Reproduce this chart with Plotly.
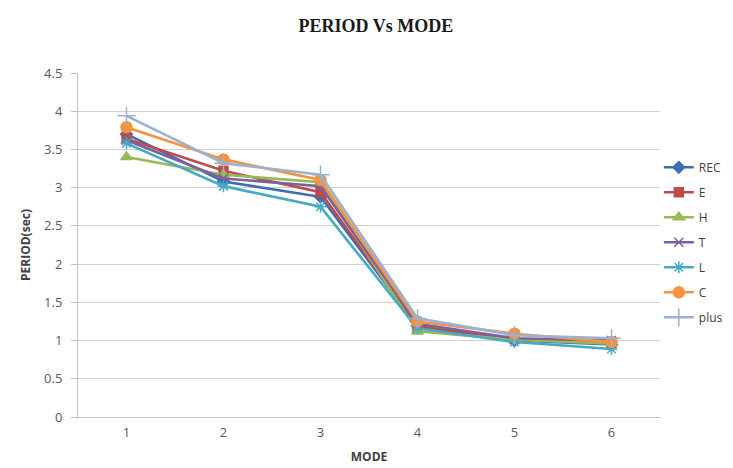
import plotly.graph_objects as go

modes = [1, 2, 3, 4, 5, 6]
mode_labels = ["1", "2", "3", "4", "5", "6"]
series_names = ["REC", "E", "H", "T", "L", "C", "plus"]
rec = [3.70, 3.08, 2.88, 1.19, 1.00, 0.95]
e_vals = [3.64, 3.22, 2.94, 1.18, 1.02, 0.97]
h_vals = [3.40, 3.17, 3.07, 1.12, 1.01, 0.96]
t_vals = [3.62, 3.12, 3.02, 1.22, 1.03, 1.00]
l_vals = [3.58, 3.02, 2.75, 1.16, 0.98, 0.89]
c_vals = [3.79, 3.37, 3.10, 1.25, 1.09, 0.98]
plus_vals = [3.94, 3.32, 3.17, 1.29, 1.07, 1.03]
y_ticks = [0, 0.5, 1, 1.5, 2, 2.5, 3, 3.5, 4, 4.5]
y_tick_labels = ["0", "0.5", "1", "1.5", "2", "2.5", "3", "3.5", "4", "4.5"]

all_vals = [rec, e_vals, h_vals, t_vals, l_vals, c_vals, plus_vals]
colors = ["#3E6DB5", "#BE4B48", "#98B954", "#7D60A0", "#46AAC5", "#F69240", "#98B2D4"]
symbols = ["diamond", "square", "triangle-up", "x-thin-open", "asterisk-open", "circle", "cross-thin-open"]
sizes = [9, 9, 10, 9, 10, 11, 13]

fig = go.Figure()
for name, vals, col, sym, sz in zip(series_names, all_vals, colors, symbols, sizes):
    fig.add_trace(go.Scatter(
        x=modes, y=vals, name=name, mode="lines+markers",
        line=dict(color=col, width=2.6),
        marker=dict(symbol=sym, size=sz, color=col, line=dict(color=col, width=1.5)),
        legendgroup=name,
    ))

fig.update_layout(
    width=733, height=468,
    paper_bgcolor="white", plot_bgcolor="white",
    margin=dict(l=70, r=81, t=65, b=59, autoexpand=False),
    title=dict(text="<b>PERIOD Vs MODE</b>", x=0.502, xanchor="center", y=0.962, yanchor="middle",
               font=dict(family="Liberation Serif", size=18, color="#1a1a1a")),
    font=dict(family="Open Sans", color="#595959"),
    showlegend=True,
    legend=dict(x=0.998, y=0.768, xanchor="left", yanchor="top",
                font=dict(family="Open Sans", size=12, color="#404040"),
                tracegroupgap=6, itemwidth=30, bgcolor="rgba(0,0,0,0)"),
    xaxis=dict(
        range=[0.5, 6.5], tickvals=modes, ticktext=mode_labels,
        showgrid=False, showline=True, linecolor="#bfbfbf", linewidth=1,
        ticks="", ticklabelstandoff=3,
        tickfont=dict(size=13, color="#595959"), zeroline=False,
        title=dict(text="<b>MODE</b>", font=dict(size=12, color="#404040"), standoff=13),
    ),
    yaxis=dict(
        range=[0, 4.5], tickvals=y_ticks, ticktext=y_tick_labels,
        showgrid=True, gridcolor="#d0d0d0", gridwidth=1,
        showline=True, linecolor="#bfbfbf", linewidth=1,
        ticks="outside", ticklen=6, tickcolor="#bfbfbf", ticklabelstandoff=6,
        tickfont=dict(size=13, color="#595959"), zeroline=False,
        title=dict(text="<b>PERIOD(sec)</b>", font=dict(size=12, color="#404040"), standoff=10),
    ),
)

fig.write_html("out.html")
